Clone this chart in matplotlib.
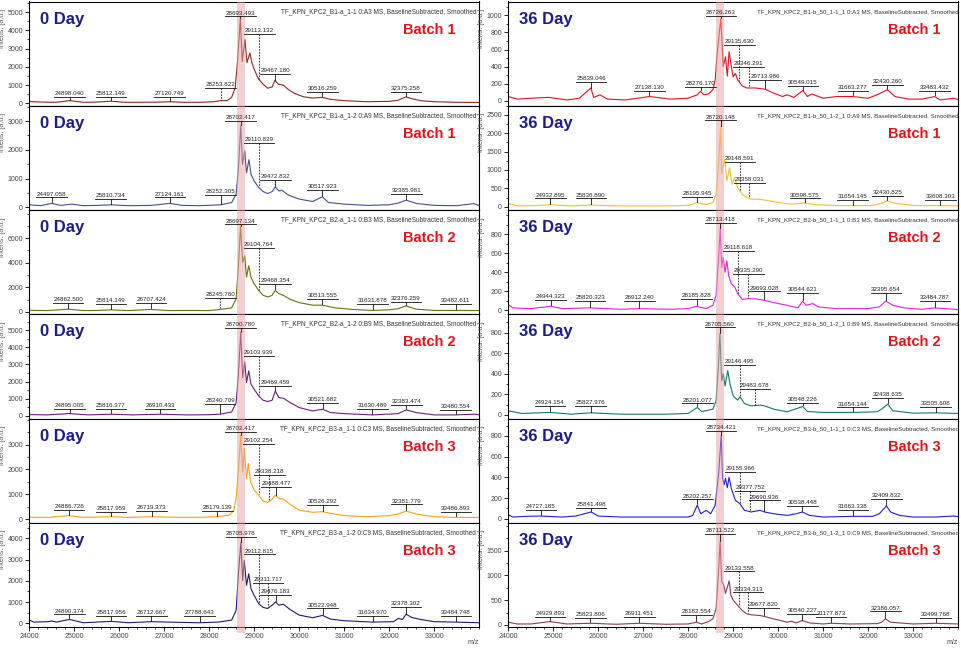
import numpy as np
import matplotlib
matplotlib.use("Agg")
import matplotlib.pyplot as plt
from matplotlib.ticker import MultipleLocator, FixedLocator

plt.rcParams["font.family"] = ["Liberation Sans", "DejaVu Sans"]

# ---------------- spectra: (m/z, intensity) ----------------
# 0 Day
trace_d0_b1_a3 = [(24000, 100), (24300, 70), (24600, 60), (24898, 150), (25200, 60), (25500, 70), (25812, 120),
                  (26100, 60), (26500, 60), (26900, 70), (27120, 90), (27400, 60), (27800, 60), (28100, 90),
                  (28253, 150), (28400, 150), (28500, 330), (28580, 870), (28630, 2300), (28693, 4650),
                  (28735, 2300), (28795, 3500), (28840, 2230), (28905, 2750), (28950, 2230), (29000, 1870),
                  (29100, 1320), (29200, 1050), (29300, 830), (29400, 900), (29460, 1260), (29540, 1050),
                  (29650, 1000), (29750, 780), (29900, 540), (30100, 360), (30300, 290), (30516, 330), (30700, 220),
                  (31000, 150), (31500, 90), (32000, 110), (32200, 170), (32375, 360), (32500, 260), (32700, 150),
                  (33000, 90), (33500, 60), (34000, 50)]
peaks_d0_b1_a3 = ["24898.040", "25812.149", "27120.749", "28253.822", "28693.493", "29113.132", "29467.180",
                  "30516.259", "32375.258"]
lab_y_d0_b1_a3 = [360, 360, 360, 830, 4760, 3820, 1630, 650, 650]

trace_d0_b1_a9 = [(24000, 90), (24250, 60), (24497, 140), (24700, 70), (24942, 115), (25200, 60), (25500, 70),
                  (25810, 90), (26200, 60), (26700, 70), (27124, 140), (27400, 70), (27800, 60), (28252, 90),
                  (28500, 170), (28600, 460), (28650, 1370), (28702, 2850), (28740, 1490), (28790, 1970),
                  (28830, 1200), (28885, 1660), (28930, 1150), (29000, 920), (29100, 690), (29200, 550),
                  (29300, 480), (29400, 550), (29470, 710), (29550, 570), (29620, 600), (29750, 435), (30000, 290),
                  (30300, 205), (30517, 370), (30650, 170), (31000, 115), (31500, 70), (32000, 90), (32200, 150),
                  (32385, 250), (32600, 140), (33000, 70), (33500, 60), (33880, 130), (34000, 70)]
peaks_d0_b1_a9 = ["24497.058", "25810.734", "27124.161", "28252.305", "28702.417", "29110.829", "29472.832",
                  "30517.923", "32385.981"]
lab_y_d0_b1_a9 = [345, 290, 345, 420, 3000, 2230, 950, 600, 460]

trace_d0_b2_b3 = [(24000, 120), (24400, 100), (24862, 215), (25200, 100), (25500, 110), (25814, 160), (26200, 100),
                  (26707, 190), (27100, 100), (27600, 110), (28000, 100), (28245, 190), (28500, 320), (28600, 1075),
                  (28650, 3760), (28697, 6950), (28745, 4030), (28790, 4570), (28830, 2820), (28880, 3760),
                  (28930, 2820), (29000, 2280), (29100, 1750), (29200, 1340), (29300, 1210), (29400, 1340),
                  (29468, 1750), (29550, 1480), (29650, 1340), (29800, 1020), (30000, 750), (30300, 540),
                  (30513, 540), (30800, 320), (31200, 190), (31631, 110), (32000, 160), (32200, 250), (32376, 480),
                  (32600, 215), (33000, 110), (33482, 110), (34000, 100)]
peaks_d0_b2_b3 = ["24862.500", "25814.149", "26707.424", "28245.760", "28697.134", "29104.764", "29468.354",
                  "30513.555", "31631.878", "32376.259", "33482.611"]
lab_y_d0_b2_b3 = [725, 670, 725, 1130, 7120, 5240, 2280, 1020, 620, 810, 620]

trace_d0_b2_b9 = [(24000, 80), (24400, 60), (24895, 135), (25300, 60), (25816, 100), (26300, 60), (26910, 100),
                  (27500, 60), (28000, 70), (28240, 100), (28500, 230), (28600, 780), (28650, 2430), (28700, 4860),
                  (28745, 2240), (28790, 3150), (28830, 1950), (28880, 2630), (28930, 1850), (29000, 1560),
                  (29100, 1170), (29200, 915), (29300, 840), (29400, 915), (29470, 1460), (29550, 1070),
                  (29650, 1030), (29800, 780), (30000, 490), (30300, 290), (30521, 390), (30700, 195), (31000, 135),
                  (31630, 60), (32200, 135), (32383, 350), (32600, 195), (33000, 60), (33480, 60), (33900, 100),
                  (34000, 70)]
peaks_d0_b2_b9 = ["24895.005", "25816.377", "26910.433", "28240.709", "28700.780", "29103.939", "29469.459",
                  "30521.682", "31630.489", "32383.474", "33480.554"]
lab_y_d0_b2_b9 = [430, 390, 390, 680, 5120, 3500, 1750, 780, 390, 620, 350]

trace_d0_b3_c3 = [(24000, 70), (24400, 65), (24886, 135), (25200, 65), (25817, 95), (26200, 65), (26719, 95),
                  (27300, 65), (27800, 70), (28179, 95), (28450, 160), (28550, 360), (28600, 830), (28650, 2030),
                  (28702, 3370), (28745, 1900), (28780, 2840), (28830, 1630), (28870, 2240), (28920, 1500),
                  (29000, 1165), (29050, 1070), (29100, 960), (29200, 720), (29300, 670), (29400, 800),
                  (29468, 960), (29550, 830), (29650, 800), (29800, 590), (30000, 360), (30300, 270), (30526, 295),
                  (30700, 230), (31000, 135), (31500, 95), (32000, 135), (32200, 200), (32381, 320), (32600, 200),
                  (33000, 95), (33486, 65), (34000, 65)]
peaks_d0_b3_c3 = ["24886.726", "25817.959", "26719.373", "28179.139", "28702.417", "29102.254", "29338.218",
                  "29488.477", "30526.292", "32381.779", "33486.893"]
lab_y_d0_b3_c3 = [360, 295, 335, 335, 3500, 3040, 1790, 1300, 560, 590, 295]

trace_d0_b3_c9 = [(24000, 155), (24100, 60), (24400, 80), (24500, 110), (24600, 60), (24890, 185), (25200, 30),
                  (25500, 60), (25817, 95), (26200, 30), (26712, 80), (27100, 60), (27788, 30), (28200, 60),
                  (28500, 155), (28600, 620), (28650, 2330), (28705, 3810), (28745, 2020), (28780, 2960),
                  (28830, 1790), (28880, 2330), (28930, 1630), (29000, 1320), (29100, 930), (29200, 750),
                  (29300, 700), (29400, 855), (29476, 1010), (29550, 855), (29650, 900), (29800, 650), (30000, 390),
                  (30300, 265), (30522, 375), (30700, 200), (31000, 125), (31634, 60), (32100, 80), (32200, 230),
                  (32300, 185), (32378, 435), (32500, 280), (32700, 185), (33000, 80), (33484, 60), (34000, 30)]
peaks_d0_b3_c9 = ["24890.374", "25817.956", "26712.667", "27788.643", "28705.978", "29112.815", "29311.717",
                  "29476.183", "30522.948", "31634.970", "32378.302", "33484.748"]
lab_y_d0_b3_c9 = [420, 340, 340, 340, 4050, 3240, 1900, 1320, 700, 340, 780, 340]

# 36 Day
trace_d36_b1_a3 = [(24000, 50), (24200, 20), (24500, 30), (24900, 40), (25300, 10), (25580, 30), (25835, 150),
                   (25900, 40), (26040, 70), (26200, 20), (26600, 10), (27138, 50), (27600, 20), (28000, 30),
                   (28200, 70), (28276, 110), (28350, 70), (28450, 80), (28550, 130), (28600, 245), (28650, 590),
                   (28726, 960), (28780, 400), (28830, 515), (28870, 290), (28910, 575), (28960, 400), (29000, 280),
                   (29050, 320), (29100, 245), (29200, 175), (29300, 150), (29500, 150), (29713, 135), (29900, 90),
                   (30100, 50), (30200, 70), (30350, 40), (30549, 120), (30650, 50), (30750, 80), (31000, 30),
                   (31300, 50), (31663, 50), (32000, 30), (32200, 70), (32430, 130), (32600, 50), (32900, 20),
                   (33200, 20), (33483, 50), (33600, 10), (33900, 30), (34000, 15)]
peaks_d36_b1_a3 = ["25839.046", "27138.130", "28276.170", "28726.263", "29135.630", "29346.291", "29713.986",
                   "30549.015", "31663.277", "32430.260", "33483.432"]
lab_y_d36_b1_a3 = [217, 120, 167, 990, 650, 400, 245, 175, 120, 186, 120]

trace_d36_b1_a9 = [(24000, 90), (24200, 20), (24600, 30), (24932, 55), (25400, 20), (25838, 45), (26500, 20),
                   (27500, 20), (28000, 35), (28195, 110), (28400, 55), (28550, 115), (28620, 340), (28680, 1240),
                   (28720, 2185), (28745, 900), (28815, 1300), (28860, 700), (28920, 1060), (28975, 610),
                   (29030, 790), (29100, 520), (29200, 340), (29300, 250), (29400, 205), (29600, 200), (29800, 160),
                   (30000, 115), (30300, 70), (30598, 100), (30800, 55), (31200, 35), (31654, 25), (32100, 35),
                   (32300, 90), (32430, 160), (32600, 90), (33000, 35), (33608, 25), (34000, 25)]
peaks_d36_b1_a9 = ["24932.895", "25836.890", "28195.945", "28720.148", "29148.591", "29358.031", "30598.575",
                   "31654.145", "32430.825", "33608.303"]
lab_y_d36_b1_a9 = [225, 225, 270, 2350, 1220, 655, 225, 190, 300, 190]

trace_d36_b2_b3 = [(24000, 60), (24100, 25), (24500, 17), (24944, 42), (25200, 17), (25820, 25), (26500, 10),
                   (26912, 17), (27600, 10), (28000, 17), (28185, 42), (28400, 17), (28550, 52), (28620, 157),
                   (28670, 505), (28713, 860), (28745, 450), (28780, 555), (28820, 400), (28860, 520), (28900, 365),
                   (28960, 278), (29035, 245), (29100, 175), (29200, 115), (29300, 120), (29500, 120), (29690, 105),
                   (29900, 80), (30200, 52), (30440, 25), (30545, 95), (30620, 52), (30770, 70), (30900, 35),
                   (31300, 17), (32000, 17), (32250, 35), (32396, 97), (32550, 52), (32800, 25), (33200, 10),
                   (33485, 25), (34000, 7)]
peaks_d36_b2_b3 = ["24944.323", "25820.323", "26912.240", "28185.828", "28713.418", "29118.618", "29335.290",
                   "29693.028", "30544.621", "32395.654", "33484.787"]
lab_y_d36_b2_b3 = [111, 94, 94, 115, 920, 626, 383, 198, 184, 184, 94]

trace_d36_b2_b9 = [(24000, 39), (24300, 13), (24924, 23), (25400, 6), (25828, 19), (26500, 6), (27500, 6),
                   (28000, 13), (28201, 71), (28300, 32), (28450, 45), (28550, 55), (28620, 136), (28670, 460),
                   (28705, 790), (28745, 330), (28780, 400), (28820, 280), (28880, 430), (28930, 300), (29000, 185),
                   (29100, 142), (29150, 175), (29250, 110), (29400, 87), (29600, 94), (29700, 87), (29900, 55),
                   (30200, 29), (30548, 81), (30650, 32), (31000, 23), (31654, 23), (32200, 29), (32300, 55),
                   (32438, 104), (32550, 39), (33000, 16), (33505, 19), (34000, 13)]
peaks_d36_b2_b9 = ["24924.154", "25827.976", "28201.077", "28705.560", "29146.495", "29483.678", "30548.226",
                   "31654.144", "32438.635", "33505.608"]
lab_y_d36_b2_b9 = [87, 87, 110, 850, 486, 250, 113, 71, 162, 78]

trace_d36_b3_c3 = [(24000, 39), (24100, 16), (24400, 23), (24727, 26), (25200, 16), (25500, 26), (25841, 65),
                   (26000, 26), (26500, 16), (27500, 16), (28000, 16), (28100, 32), (28202, 130), (28280, 48),
                   (28400, 81), (28500, 48), (28600, 130), (28680, 450), (28734, 806), (28765, 390), (28800, 330),
                   (28830, 390), (28870, 300), (28910, 400), (28960, 290), (29050, 177), (29150, 145), (29250, 81),
                   (29400, 65), (29600, 81), (29700, 65), (29900, 48), (30200, 32), (30400, 48), (30538, 65),
                   (30700, 32), (31000, 16), (31663, 23), (32100, 23), (32250, 48), (32409, 123), (32500, 65),
                   (32700, 32), (33000, 16), (33500, 16), (33900, 26), (34000, 20)]
peaks_d36_b3_c3 = ["24727.185", "25841.498", "28202.257", "28734.421", "29155.966", "29377.752", "29690.936",
                   "30538.448", "31663.338", "32409.832"]
lab_y_d36_b3_c3 = [81, 106, 187, 845, 452, 265, 177, 123, 87, 194]

trace_d36_b3_c9 = [(24000, 55), (24200, 20), (24500, 20), (24929, 68), (25300, 20), (25823, 34), (26400, 14),
                   (26911, 34), (27500, 14), (28000, 20), (28182, 55), (28300, 20), (28450, 68), (28550, 123),
                   (28620, 327), (28670, 1010), (28711, 1690), (28745, 873), (28790, 805), (28830, 635),
                   (28912, 887), (28950, 600), (29000, 500), (29100, 395), (29200, 293), (29300, 225), (29400, 205),
                   (29600, 190), (29700, 170), (29900, 123), (30200, 55), (30300, 75), (30400, 41), (30540, 89),
                   (30700, 41), (31000, 20), (31177, 34), (31600, 20), (32200, 27), (32300, 55), (32386, 123),
                   (32500, 55), (33000, 20), (33499, 34), (34000, 20)]
peaks_d36_b3_c9 = ["24929.893", "25823.806", "26911.451", "28182.554", "28711.522", "29133.558", "29334.313",
                   "29677.820", "30540.227", "31177.873", "32386.057", "33499.768"]
lab_y_d36_b3_c9 = [170, 136, 157, 205, 1830, 1080, 655, 341, 225, 157, 273, 136]

titles_left = ["TF_KPN_KPC2_B1-a_1-1 0:A3 MS, BaselineSubtracted, Smoothed",
               "TF_KPN_KPC2_B1-a_1-2 0:A9 MS, BaselineSubtracted, Smoothed",
               "TF_KPN_KPC2_B2-a_1-1 0:B3 MS, BaselineSubtracted, Smoothed",
               "TF_KPN_KPC2_B2-a_1-2 0:B9 MS, BaselineSubtracted, Smoothed",
               "TF_KPN_KPC2_B3-a_1-1 0:C3 MS, BaselineSubtracted, Smoothed",
               "TF_KPN_KPC2_B3-a_1-2 0:C9 MS, BaselineSubtracted, Smoothed"]
titles_right = ["TF_KPN_KPC2_B1-b_50_1-1_1 0:A3 MS, BaselineSubtracted, Smoothed",
                "TF_KPN_KPC2_B1-b_50_1-2_1 0:A9 MS, BaselineSubtracted, Smoothed",
                "TF_KPN_KPC2_B2-b_50_1-1_1 0:B3 MS, BaselineSubtracted, Smoothed",
                "TF_KPN_KPC2_B2-b_50_1-2_1 0:B9 MS, BaselineSubtracted, Smoothed",
                "TF_KPN_KPC2_B3-b_50_1-1_1 0:C3 MS, BaselineSubtracted, Smoothed",
                "TF_KPN_KPC2_B3-b_50_1-2_1 0:C9 MS, BaselineSubtracted, Smoothed"]
batches = ["Batch 1", "Batch 1", "Batch 2", "Batch 2", "Batch 3", "Batch 3"]
xticks = [24000, 25000, 26000, 27000, 28000, 29000, 30000, 31000, 32000, 33000]

# col, row, trace, peaks, label heights, colour, ylim, y step
panels = [
    (0, 0, trace_d0_b1_a3, peaks_d0_b1_a3, lab_y_d0_b1_a3, "#8a2b1b", (-130, 5580), 1000),
    (0, 1, trace_d0_b1_a9, peaks_d0_b1_a9, lab_y_d0_b1_a9, "#46508a", (-90, 3530), 1000),
    (0, 2, trace_d0_b2_b3, peaks_d0_b2_b3, lab_y_d0_b2_b3, "#6e6e10", (-200, 8300), 2000),
    (0, 3, trace_d0_b2_b9, peaks_d0_b2_b9, lab_y_d0_b2_b9, "#6b1f7b", (-150, 5930), 1000),
    (0, 4, trace_d0_b3_c3, peaks_d0_b3_c3, lab_y_d0_b3_c3, "#f5a31a", (-150, 4050), 1000),
    (0, 5, trace_d0_b3_c9, peaks_d0_b3_c9, lab_y_d0_b3_c9, "#1c1c6b", (-170, 4730), 1000),
    (1, 0, trace_d36_b1_a3, peaks_d36_b1_a3, lab_y_d36_b1_a3, "#e0141e", (-58, 1163), 200),
    (1, 1, trace_d36_b1_a9, peaks_d36_b1_a9, lab_y_d36_b1_a9, "#f2c12e", (-90, 2750), 500),
    (1, 2, trace_d36_b2_b3, peaks_d36_b2_b3, lab_y_d36_b2_b3, "#e21ee2", (-42, 1054), 200),
    (1, 3, trace_d36_b2_b9, peaks_d36_b2_b9, lab_y_d36_b2_b9, "#17786e", (-36, 978), 200),
    (1, 4, trace_d36_b3_c3, peaks_d36_b3_c3, lab_y_d36_b3_c3, "#1f1fd2", (-39, 968), 200),
    (1, 5, trace_d36_b3_c9, peaks_d36_b3_c9, lab_y_d36_b3_c9, "#8b3a5a", (-41, 2059), 500),
]

W, H = 962, 650
fig = plt.figure(figsize=(W / 100, H / 100), dpi=100)
lefts = [29.3, 508.3]
ax_w = 449.7
top, row_h = 1.5, 104.25

for col, row, trace, peaks, lab_y, color, ylim, ystep in panels:
    x0 = lefts[col] / W
    y0 = (H - (top + (row + 1) * row_h)) / H
    ax = fig.add_axes([x0, y0, ax_w / W, row_h / H])
    mz = np.array([p[0] for p in trace], dtype=float)
    inten = np.array([p[1] for p in trace], dtype=float)
    ax.plot(mz, inten, color=color, lw=0.8, zorder=2)
    ax.set_xlim(24000, 34000)
    ax.set_ylim(*ylim)
    span = ylim[1] - ylim[0]

    # main peak highlight band
    ax.axvspan(28620, 28800, color="#e6a3a3", alpha=0.5, lw=0, zorder=3)
    if row == 5:
        ax.axvspan(28620, 28800, ymin=-0.06, ymax=0, color="#e6a3a3", alpha=0.5, lw=0,
                   zorder=3, clip_on=False)

    # peak labels
    for lab, ly in zip(peaks, lab_y):
        px = float(lab)
        yc = np.interp(px, mz, inten) + 0.01 * span
        ax.plot([px - 340, px + 340], [ly, ly], color="#111111", lw=0.6, zorder=4)
        ls = (0, (2, 1.5)) if ly - yc > 0.1 * span else "-"
        ax.plot([px, px], [ly, yc], color="#111111", lw=0.6, ls=ls, zorder=4)
        ax.annotate(lab, (px, ly), xytext=(0, 0.6), textcoords="offset points", ha="center", va="bottom",
                    fontsize=4.5, color="#222222", zorder=5)

    if col == 0:
        ax.text(0.994, 0.905, titles_left[row], transform=ax.transAxes, ha="right", va="center",
                fontsize=4.7, color="#333333")
    else:
        ax.text(1.002, 0.905, titles_right[row], transform=ax.transAxes, ha="right", va="center",
                fontsize=4.4, color="#333333")
    day = "0 Day" if col == 0 else "36 Day"
    ax.text(0.024, 0.83, day, transform=ax.transAxes, ha="left", va="center", fontsize=12,
            fontweight="bold", color="#1b1b8c")
    ax.text(0.832 if col == 0 else 0.845, 0.73, batches[row], transform=ax.transAxes, ha="left", va="center",
            fontsize=10.5, fontweight="bold", color="#e8121c")

    # y ticks: labels too close to the top edge are left out, as in the original software
    ymax_lab = ylim[1] - 0.06 * span
    ax.yaxis.set_major_locator(FixedLocator(np.arange(0, ymax_lab, ystep)))
    ax.yaxis.set_minor_locator(MultipleLocator(ystep / 2))
    ax.set_xticks(xticks)
    ax.xaxis.set_minor_locator(MultipleLocator(200))
    ax.tick_params(axis="both", which="major", direction="out", length=3, width=0.6, labelsize=5,
                   labelcolor="#444444", pad=1.5)
    ax.tick_params(axis="both", which="minor", direction="out", length=1.5, width=0.5)
    if row != 5:
        ax.tick_params(axis="x", which="both", bottom=False, labelbottom=False)
    ax.set_ylabel("Intens. [a.u.]", fontsize=5, color="#555555")
    ax.yaxis.set_label_coords(-0.052, 0.74)
    for s in ax.spines.values():
        s.set_linewidth(0.8)
        s.set_color("black")
    if row == 5:
        ax.text(1.0, -0.15, "m/z", transform=ax.transAxes, ha="right", va="center", fontsize=5,
                color="#444444")

fig.savefig("out.png", dpi=100)
